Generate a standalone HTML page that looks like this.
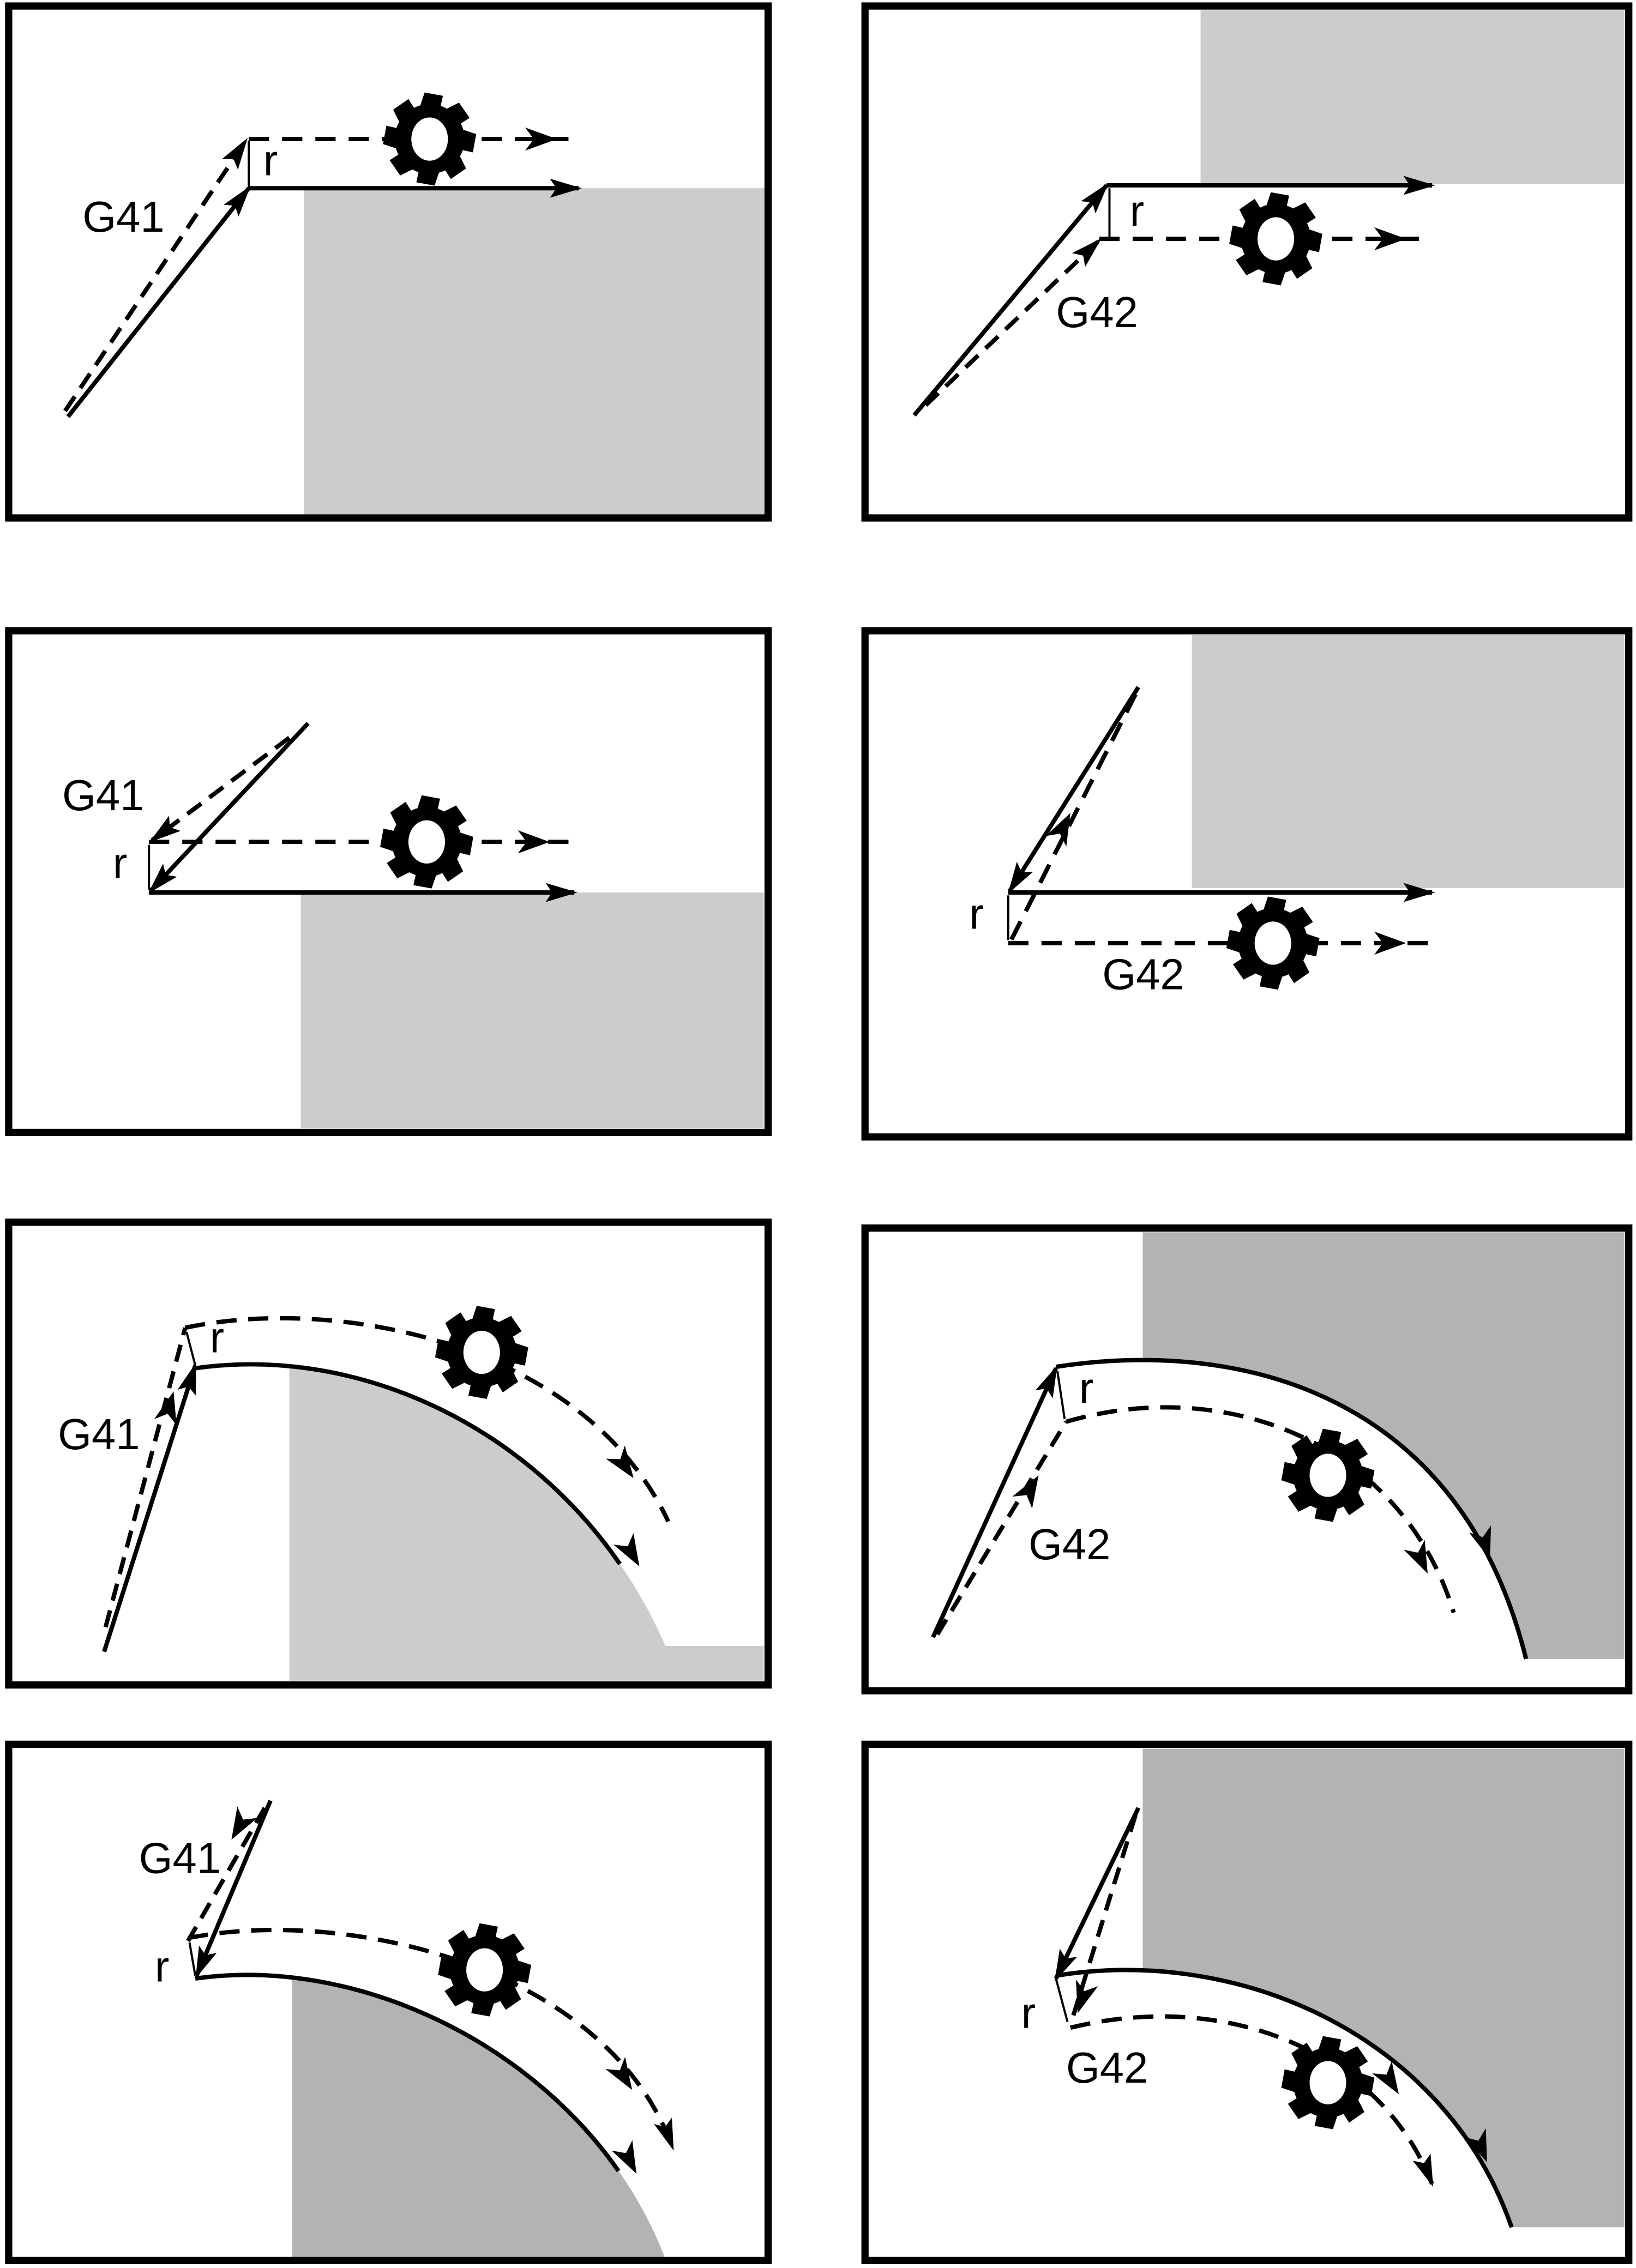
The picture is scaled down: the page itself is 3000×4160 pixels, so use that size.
<!DOCTYPE html>
<html><head><style>html,body{margin:0;padding:0;background:#fff}svg{display:block}</style></head><body>
<svg width="3000" height="4160" viewBox="0 0 1131 1568" xmlns="http://www.w3.org/2000/svg" font-family="Liberation Sans, sans-serif">
<defs>
<marker id="a" viewBox="0 0 10 10" refX="9" refY="5" markerWidth="22" markerHeight="22" orient="auto" markerUnits="userSpaceOnUse"><path d="M0,2L10,5L0,8L2,5z" fill="#000"/></marker>
<polygon id="ah" points="0,0 -22,-8 -16,0 -22,8" fill="#000"/>
<clipPath id="c5"><rect x="200" y="840" width="330" height="330"/></clipPath>
<clipPath id="c6"><rect x="790" y="845" width="335" height="330"/></clipPath>
<clipPath id="c7"><rect x="202" y="1200" width="330" height="365"/></clipPath>
<clipPath id="c8"><rect x="790" y="1200" width="335" height="365"/></clipPath>
<g id="cut" transform="scale(1.15)">
<circle r="21" fill="#000"/>
<g fill="#000">
<polygon points="-3,-28 8,-26 6,-17 -6,-19"/>
<polygon points="-3,-28 8,-26 6,-17 -6,-19" transform="rotate(45)"/>
<polygon points="-3,-28 8,-26 6,-17 -6,-19" transform="rotate(90)"/>
<polygon points="-3,-28 8,-26 6,-17 -6,-19" transform="rotate(135)"/>
<polygon points="-3,-28 8,-26 6,-17 -6,-19" transform="rotate(180)"/>
<polygon points="-3,-28 8,-26 6,-17 -6,-19" transform="rotate(225)"/>
<polygon points="-3,-28 8,-26 6,-17 -6,-19" transform="rotate(270)"/>
<polygon points="-3,-28 8,-26 6,-17 -6,-19" transform="rotate(315)"/>
</g>
<ellipse rx="11" ry="13" fill="#fff"/>
</g>
</defs>
<!-- gray regions -->
<rect x="210" y="130" width="319" height="226" fill="#ccc"/>
<rect x="830" y="7" width="293" height="120" fill="#ccc"/>
<rect x="208" y="617" width="320" height="163" fill="#ccc"/>
<rect x="824" y="439" width="299" height="175" fill="#ccc"/>
<path clip-path="url(#c5)" d="M135,946 C260,928 400,1000 460,1138 L528,1138 L528,1162 L135,1162 Z" fill="#ccc"/>
<path clip-path="url(#c6)" d="M730,945 C860,925 1010,965 1055,1147 L1123,1147 L1123,852 L730,852 Z" fill="#b3b3b3"/>
<path clip-path="url(#c7)" d="M135,1368 C260,1350 410,1430 460,1562 L135,1562 Z" fill="#b3b3b3"/>
<path clip-path="url(#c8)" d="M730,1366 C860,1345 1000,1410 1045,1540 L1123,1540 L1123,1209 L730,1209 Z" fill="#b3b3b3"/>
<g stroke="#000" fill="none">
<rect x="6" y="4" width="525" height="354" stroke-width="5"/>
<rect x="598" y="4" width="528" height="354" stroke-width="5"/>
<rect x="6" y="436" width="525" height="347" stroke-width="5"/>
<rect x="598" y="436" width="528" height="350" stroke-width="5"/>
<rect x="6" y="845" width="525" height="320" stroke-width="5"/>
<rect x="598" y="849" width="528" height="320" stroke-width="5"/>
<rect x="6" y="1206" width="525" height="357" stroke-width="5"/>
<rect x="598" y="1206" width="528" height="357" stroke-width="5"/>
</g>
<g stroke="#000" stroke-width="3" fill="none">
<!-- panel 1 -->
<line x1="47" y1="288" x2="172" y2="130" marker-end="url(#a)"/>
<line x1="172" y1="130" x2="400" y2="130" marker-end="url(#a)"/>
<line x1="45" y1="284" x2="170" y2="97" stroke-dasharray="12,7" marker-end="url(#a)"/>
<line x1="172" y1="96" x2="400" y2="96" stroke-dasharray="14,9"/>
<line x1="172" y1="130" x2="172" y2="97" stroke-width="1.5"/>
<!-- panel 2 -->
<line x1="632" y1="287" x2="765" y2="128" marker-end="url(#a)"/>
<line x1="765" y1="128" x2="990" y2="128" marker-end="url(#a)"/>
<line x1="640" y1="280" x2="760" y2="166" stroke-dasharray="12,7" marker-end="url(#a)"/>
<line x1="760" y1="165" x2="990" y2="165" stroke-dasharray="14,9"/>
<line x1="767" y1="130" x2="767" y2="164" stroke-width="1.5"/>
<!-- panel 3 -->
<line x1="213" y1="500" x2="104" y2="616" marker-end="url(#a)"/>
<line x1="103" y1="617" x2="397" y2="617" marker-end="url(#a)"/>
<line x1="200" y1="510" x2="105" y2="581" stroke-dasharray="12,7" marker-end="url(#a)"/>
<line x1="103" y1="582" x2="397" y2="582" stroke-dasharray="14,9"/>
<line x1="103" y1="615" x2="103" y2="584" stroke-width="1.5"/>
<!-- panel 4 -->
<line x1="787" y1="475" x2="698" y2="616" marker-end="url(#a)"/>
<line x1="697" y1="617" x2="990" y2="617" marker-end="url(#a)"/>
<line x1="785" y1="480" x2="698" y2="652" stroke-dasharray="14,8"/>
<line x1="697" y1="652" x2="990" y2="652" stroke-dasharray="14,9"/>
<line x1="697" y1="619" x2="697" y2="650" stroke-width="1.5"/>
<!-- panel 5 -->
<line x1="72" y1="1142" x2="135" y2="944" marker-end="url(#a)"/>
<path d="M135,946 C260,928 400,1000 460,1138" pathLength="100" stroke-dasharray="84 100"/>
<line x1="73" y1="1125" x2="128" y2="918" stroke-dasharray="12,7"/>
<path d="M128,918 C235,895 405,930 462,1052" stroke-dasharray="14,8"/>
<line x1="135" y1="944" x2="129" y2="921" stroke-width="1.5"/>
<!-- panel 6 -->
<line x1="645" y1="1132" x2="730" y2="946" marker-end="url(#a)"/>
<path d="M730,945 C860,925 1010,965 1055,1147"/>
<line x1="648" y1="1130" x2="737" y2="983" stroke-dasharray="12,7"/>
<path d="M737,983 C850,950 970,1000 1005,1115" stroke-dasharray="14,8"/>
<line x1="731" y1="948" x2="736" y2="981" stroke-width="1.5"/>
<!-- panel 7 -->
<line x1="187" y1="1245" x2="136" y2="1366" marker-end="url(#a)"/>
<path d="M135,1368 C260,1350 410,1430 460,1562" pathLength="100" stroke-dasharray="83 100"/>
<line x1="183" y1="1250" x2="130" y2="1342" stroke-dasharray="12,7"/>
<path d="M130,1340 C240,1318 420,1360 465,1485" stroke-dasharray="14,8" marker-end="url(#a)"/>
<line x1="135" y1="1366" x2="131" y2="1343" stroke-width="1.5"/>
<!-- panel 8 -->
<line x1="787" y1="1250" x2="730" y2="1368" marker-end="url(#a)"/>
<path d="M730,1366 C860,1345 1000,1410 1045,1540"/>
<line x1="785" y1="1255" x2="740" y2="1400" stroke-dasharray="12,7"/>
<path d="M740,1402 C850,1375 955,1420 990,1510" stroke-dasharray="14,8" marker-end="url(#a)"/>
<line x1="730" y1="1368" x2="738" y2="1398" stroke-width="1.5"/>
</g>
<!-- additional arrowheads -->
<use href="#ah" transform="translate(385,96)"/>
<use href="#ah" transform="translate(972,165)"/>
<use href="#ah" transform="translate(380,582)"/>
<use href="#ah" transform="translate(972,652)"/>
<use href="#ah" transform="translate(740,562) rotate(-63)"/>
<use href="#ah" transform="translate(438,1022) rotate(55)"/>
<use href="#ah" transform="translate(120,962) rotate(-75)"/>
<use href="#ah" transform="translate(442,1083) rotate(60)"/>
<use href="#ah" transform="translate(718,1020) rotate(-59)"/>
<use href="#ah" transform="translate(987,1088) rotate(65)"/>
<use href="#ah" transform="translate(1030,1078) rotate(72)"/>
<use href="#ah" transform="translate(160,1272) rotate(120)"/>
<use href="#ah" transform="translate(437,1445) rotate(58)"/>
<use href="#ah" transform="translate(440,1503) rotate(63)"/>
<use href="#ah" transform="translate(745,1392) rotate(107)"/>
<use href="#ah" transform="translate(967,1448) rotate(58)"/>
<use href="#ah" transform="translate(1028,1495) rotate(68)"/>
<use href="#cut" x="297" y="96"/>
<use href="#cut" x="882" y="165"/>
<use href="#cut" x="295" y="582"/>
<use href="#cut" x="880" y="652"/>
<use href="#cut" x="333" y="935"/>
<use href="#cut" x="918" y="1020"/>
<use href="#cut" x="335" y="1362"/>
<use href="#cut" x="918" y="1440"/>
<g font-size="30" fill="#000">
<text x="57" y="160">G41</text><text x="182" y="121">r</text>
<text x="730" y="226">G42</text><text x="781" y="156">r</text>
<text x="43" y="560">G41</text><text x="78" y="607">r</text>
<text x="762" y="684">G42</text><text x="670" y="642">r</text>
<text x="40" y="1002">G41</text><text x="145" y="935">r</text>
<text x="711" y="1078">G42</text><text x="746" y="970">r</text>
<text x="96" y="1295">G41</text><text x="107" y="1370">r</text>
<text x="737" y="1440">G42</text><text x="706" y="1402">r</text>
</g>
</svg>
</body></html>
